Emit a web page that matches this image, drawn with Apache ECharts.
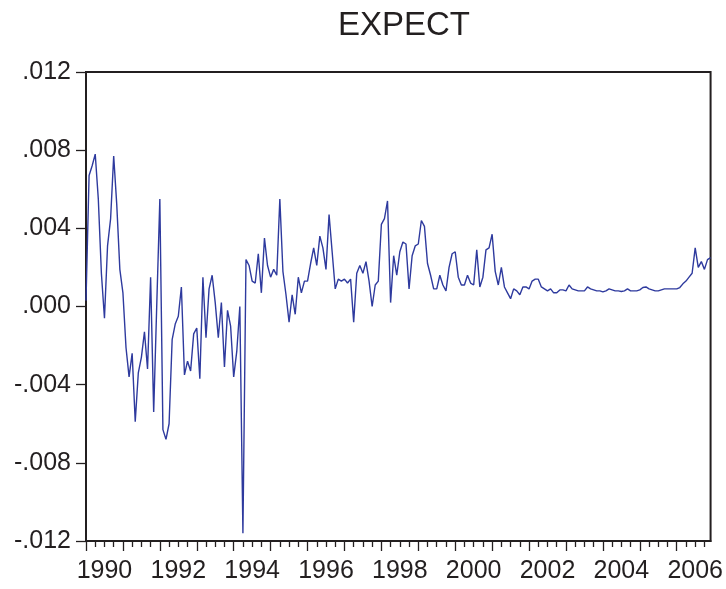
<!DOCTYPE html>
<html>
<head>
<meta charset="utf-8">
<script src="https://cdn.jsdelivr.net/npm/echarts@6/dist/echarts.min.js"></script>
<style>
  html, body { margin: 0; padding: 0; background: #fff; }
  #chart { width: 726px; height: 589px; }
</style>
</head>
<body>
<div id="chart"></div>
<script>
// monthly EXPECT series, Jan 1990 - Dec 2006
const startYear = 1990;
const v1990 = [0.0003, 0.0067, 0.0072, 0.0078, 0.0055, 0.0017, -0.0006, 0.0031, 0.0045, 0.0077, 0.0052, 0.0019];
const v1991 = [0.0007, -0.0021, -0.0036, -0.0024, -0.0059, -0.0034, -0.0026, -0.0013, -0.0032, 0.0015, -0.0054, 0.0001];
const v1992 = [0.0055, -0.0063, -0.0068, -0.0060, -0.0017, -0.0009, -0.0005, 0.0010, -0.0035, -0.0028, -0.0033, -0.0014];
const v1993 = [-0.0011, -0.0037, 0.0015, -0.0016, 0.0009, 0.0016, 0.0002, -0.0016, 0.0002, -0.0031, -0.0002, -0.0010];
const v1994 = [-0.0036, -0.0023, 0.0000, -0.0116, 0.0024, 0.0021, 0.0013, 0.0012, 0.0027, 0.0007, 0.0035, 0.0021];
const v1995 = [0.0015, 0.0019, 0.0016, 0.0055, 0.0018, 0.0006, -0.0008, 0.0006, -0.0004, 0.0015, 0.0007, 0.0013];
const v1996 = [0.0013, 0.0022, 0.0030, 0.0021, 0.0036, 0.0030, 0.0019, 0.0047, 0.0028, 0.0009, 0.0014, 0.0013];
const v1997 = [0.0014, 0.0012, 0.0014, -0.0008, 0.0017, 0.0021, 0.0017, 0.0023, 0.0013, 0.0000, 0.0011, 0.0013];
const v1998 = [0.0042, 0.0045, 0.0054, 0.0002, 0.0026, 0.0016, 0.0028, 0.0033, 0.0032, 0.0009, 0.0026, 0.0031];
const v1999 = [0.0032, 0.0044, 0.0041, 0.0022, 0.0016, 0.0009, 0.0009, 0.0016, 0.0011, 0.0008, 0.0020, 0.0027];
const v2000 = [0.0028, 0.0015, 0.0011, 0.0011, 0.0016, 0.0012, 0.0011, 0.0029, 0.0010, 0.0015, 0.0029, 0.0030];
const v2001 = [0.0037, 0.0018, 0.0011, 0.0020, 0.0010, 0.0007, 0.0004, 0.0009, 0.0008, 0.0006, 0.0010, 0.0010];
const v2002 = [0.0009, 0.0013, 0.0014, 0.0014, 0.0010, 0.0009, 0.0008, 0.0009, 0.0007, 0.0007, 0.00085, 0.00085];
const v2003 = [0.0008, 0.0011, 0.0009, 0.00085, 0.0008, 0.0008, 0.0008, 0.0010, 0.0009, 0.00085, 0.0008, 0.0008];
const v2004 = [0.00075, 0.0008, 0.0009, 0.00085, 0.0008, 0.0008, 0.00077, 0.0008, 0.0009, 0.0008, 0.0008, 0.0008];
const v2005 = [0.00085, 0.00097, 0.0010, 0.0009, 0.00085, 0.0008, 0.0008, 0.00085, 0.0009, 0.0009, 0.0009, 0.0009];
const v2006 = [0.0009, 0.00097, 0.00116, 0.0013, 0.0015, 0.0017, 0.0030, 0.0020, 0.0023, 0.0019, 0.0024, 0.0025];

const values = [].concat(v1990, v1991, v1992, v1993, v1994, v1995, v1996, v1997, v1998,
                         v1999, v2000, v2001, v2002, v2003, v2004, v2005, v2006);

const yearTicks = [1990, 1991, 1992, 1993, 1994, 1995, 1996, 1997, 1998, 1999, 2000, 2001, 2002, 2003, 2004, 2005, 2006];
const yearLabels = [1990, 1992, 1994, 1996, 1998, 2000, 2002, 2004, 2006];

const seriesData = values.map((v, i) => [startYear + i / 12, v]);
const lastX = startYear + (values.length - 1) / 12;

const chart = echarts.init(document.getElementById('chart'));
const font = 'Liberation Sans, Arial, sans-serif';

chart.setOption({
    animation: false,
    title: {
        text: 'EXPECT',
        left: 333,
        top: 4,
        textStyle: { fontFamily: font, fontSize: 33, fontWeight: 'normal', color: '#231f20' }
    },
    grid: {
        left: 86, right: 14, top: 72, bottom: 48,
        show: true, borderColor: '#231f20', borderWidth: 2, backgroundColor: '#fff'
    },
    xAxis: {
        type: 'value',
        min: startYear,
        max: lastX,
        interval: 1,
        axisLine: { onZero: false, lineStyle: { color: '#231f20', width: 2 } },
        axisTick: { show: true, inside: false, length: 10, customValues: yearTicks, lineStyle: { color: '#231f20', width: 1.3 } },
        minorTick: { show: true, splitNumber: 4, length: 6, lineStyle: { color: '#231f20', width: 1.3 } },
        axisLabel: {
            customValues: yearLabels.map(y => y + 0.5),
            formatter: v => String(Math.floor(v)),
            margin: 18,
            fontFamily: font, fontSize: 25, color: '#231f20'
        },
        splitLine: { show: false }
    },
    yAxis: {
        type: 'value',
        min: -0.012,
        max: 0.012,
        interval: 0.004,
        axisLine: { show: true, onZero: false, lineStyle: { color: '#231f20', width: 2 } },
        axisTick: { show: true, length: 10, lineStyle: { color: '#231f20', width: 1.3 } },
        axisLabel: {
            formatter: v => v.toFixed(3).replace('0.', '.'),
            margin: 15,
            fontFamily: font, fontSize: 25, color: '#231f20'
        },
        splitLine: { show: false }
    },
    series: [{
        type: 'line',
        data: seriesData,
        showSymbol: false,
        lineStyle: { color: '#2e3a9e', width: 1.4 }
    }]
});
</script>
</body>
</html>
